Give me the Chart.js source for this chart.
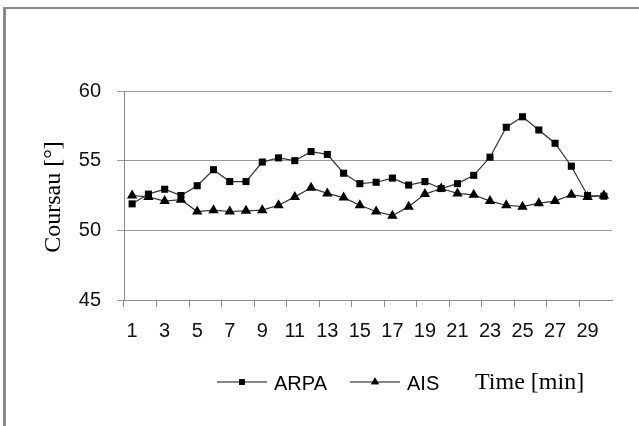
<!DOCTYPE html>
<html>
<head>
<meta charset="utf-8">
<script src="https://cdn.jsdelivr.net/npm/chart.js@4"></script>
<style>
  html, body { margin: 0; padding: 0; background: #fff; }
  #wrap { width: 639px; height: 426px; position: relative; }
</style>
</head>
<body>
<div id="wrap"><canvas id="courseChart"></canvas></div>
<script>
const minutos = Array.from({ length: 30 }, (_, i) => String(i + 1));
const arpa = [51.9, 52.6, 52.95, 52.5, 53.2, 54.35, 53.5, 53.5, 54.9, 55.2,
              55.0, 55.65, 55.45, 54.1, 53.35, 53.45, 53.75, 53.25, 53.5, 53.0,
              53.35, 53.95, 55.25, 57.4, 58.15, 57.2, 56.25, 54.6, 52.5, 52.45];
const ais = [52.5, 52.4, 52.1, 52.2, 51.35, 51.45, 51.35, 51.4, 51.45, 51.8,
             52.4, 53.05, 52.65, 52.35, 51.8, 51.35, 51.05, 51.7, 52.6, 53.0,
             52.65, 52.55, 52.1, 51.8, 51.7, 51.95, 52.1, 52.55, 52.4, 52.5];
const yMin = 45, yMax = 60, yStep = 5;

const sans = "'Liberation Sans', Arial, sans-serif";
const serif = "'Liberation Serif', 'Times New Roman', serif";
const gris = '#8a8a8a';

// frame, y title, legend and x title drawn by hand like the original sheet
const decoraciones = {
    id: 'decoraciones',
    beforeDraw(chart) {
        const ctx = chart.ctx;
        ctx.save();
        ctx.fillStyle = '#fff';
        ctx.fillRect(0, 0, chart.width, chart.height);
        ctx.strokeStyle = gris;
        ctx.lineWidth = 3;
        ctx.beginPath();
        ctx.moveTo(4.5, chart.height);
        ctx.lineTo(4.5, 8);
        ctx.stroke();
        ctx.lineWidth = 2;
        ctx.beginPath();
        ctx.moveTo(3, 8);
        ctx.lineTo(chart.width, 8);
        ctx.stroke();
        ctx.restore();
    },
    afterDraw(chart) {
        const ctx = chart.ctx;
        ctx.save();
        ctx.fillStyle = '#000';
        ctx.translate(54, 197);
        ctx.rotate(-Math.PI / 2);
        ctx.font = '24px ' + serif;
        ctx.textAlign = 'center';
        ctx.textBaseline = 'middle';
        ctx.fillText('Coursau [°]', 0, 0);
        ctx.restore();

        ctx.save();
        const yLeg = 382;
        const items = [
            { x0: 217, x1: 267, label: 'ARPA', style: 'rect', r: 4 },
            { x0: 350, x1: 400, label: 'AIS', style: 'triangle', r: 4.5 }
        ];
        items.forEach(it => {
            ctx.strokeStyle = '#111';
            ctx.lineWidth = 1.2;
            ctx.beginPath();
            ctx.moveTo(it.x0, yLeg);
            ctx.lineTo(it.x1, yLeg);
            ctx.stroke();
            ctx.fillStyle = '#000';
            Chart.helpers.drawPoint(ctx, { pointStyle: it.style, radius: it.r, rotation: 0, borderWidth: 0 },
                (it.x0 + it.x1) / 2, yLeg);
            ctx.fill();
            ctx.font = '20px ' + sans;
            ctx.textAlign = 'left';
            ctx.textBaseline = 'middle';
            ctx.fillText(it.label, it.x1 + 7, yLeg + 2);
        });
        ctx.font = '24px ' + serif;
        ctx.textAlign = 'left';
        ctx.textBaseline = 'middle';
        ctx.fillText('Time [min]', 475, yLeg + 1);
        ctx.restore();
    }
};

new Chart(document.getElementById('courseChart').getContext('2d'), {
    type: 'line',
    data: {
        labels: minutos,
        datasets: [
            {
                label: 'ARPA',
                data: arpa,
                borderColor: '#333',
                borderWidth: 1.2,
                pointStyle: 'rect',
                pointRadius: 5,
                pointBackgroundColor: '#000',
                pointBorderColor: '#000',
                pointBorderWidth: 0,
                tension: 0
            },
            {
                label: 'AIS',
                data: ais,
                borderColor: '#333',
                borderWidth: 1.2,
                pointStyle: 'triangle',
                pointRadius: 6,
                pointBackgroundColor: '#000',
                pointBorderColor: '#000',
                pointBorderWidth: 0,
                tension: 0
            }
        ]
    },
    options: {
        responsive: true,
        maintainAspectRatio: false,
        animation: false,
        layout: { padding: { top: 91, right: 27, left: 0, bottom: 0 } },
        plugins: {
            legend: { display: false },
            tooltip: { enabled: false }
        },
        scales: {
            x: {
                offset: true,
                afterFit: (scale) => { scale.height = 126; },
                grid: {
                    offset: true,
                    drawOnChartArea: false,
                    tickLength: 7,
                    color: (c) => (c.index % 2 === 0 ? gris : 'rgba(0,0,0,0)')
                },
                border: { color: gris, width: 1 },
                ticks: {
                    autoSkip: false,
                    maxRotation: 0,
                    padding: 12,
                    color: '#111',
                    font: { family: sans, size: 20 },
                    callback: function(value, index) {
                        return index % 2 === 0 ? this.getLabelForValue(value) : '';
                    }
                }
            },
            y: {
                min: yMin,
                max: yMax,
                afterFit: (scale) => { scale.width = 124; },
                grid: {
                    color: '#9a9a9a',
                    tickLength: 7
                },
                border: { color: gris, width: 1 },
                ticks: {
                    stepSize: yStep,
                    padding: 16,
                    color: '#111',
                    font: { family: sans, size: 20 }
                }
            }
        }
    },
    plugins: [decoraciones]
});
</script>
</body>
</html>
